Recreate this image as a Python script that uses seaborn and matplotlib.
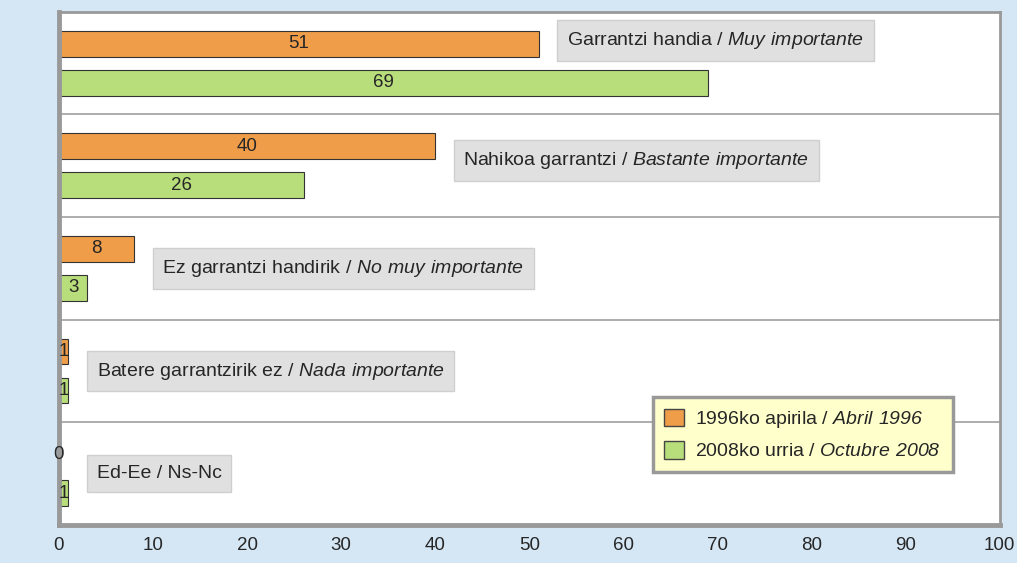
import matplotlib
matplotlib.use("Agg")
import matplotlib.pyplot as plt
import seaborn as sns
import pandas as pd
from matplotlib.patches import Patch

categories = [
    r"Garrantzi handia / $\mathsf{Muy\ importante}$",
    r"Nahikoa garrantzi / $\mathsf{Bastante\ importante}$",
    r"Ez garrantzi handirik / $\mathsf{No\ muy\ importante}$",
    r"Batere garrantzirik ez / $\mathsf{Nada\ importante}$",
    "Ed-Ee / Ns-Nc",
]
series = [r"1996ko apirila / $\mathsf{Abril\ 1996}$", r"2008ko urria / $\mathsf{Octubre\ 2008}$"]
val_1996 = [51, 40, 8, 1, 0]
val_2008 = [69, 26, 3, 1, 1]
xticks = [0, 10, 20, 30, 40, 50, 60, 70, 80, 90, 100]

colors = ["#f09d4a", "#b8dd7b"]

sns.set_style("white")
plt.rcParams["font.family"] = ["Liberation Sans", "DejaVu Sans"]
plt.rcParams["mathtext.fontset"] = "custom"
plt.rcParams["mathtext.rm"] = "Liberation Sans"
plt.rcParams["mathtext.sf"] = "Liberation Sans:italic"

df = pd.DataFrame({
    "cat": list(range(len(categories))) * 2,
    "serie": [series[0]] * len(categories) + [series[1]] * len(categories),
    "value": val_1996 + val_2008,
})

fig = plt.figure(figsize=(10.17, 5.63), dpi=100, facecolor="#d5e7f5")
ax = fig.add_axes([0.058, 0.0675, 0.925, 0.9115])
ax.set_facecolor("white")

sns.barplot(data=df, y="cat", x="value", hue="serie", orient="h",
            palette=colors, saturation=1, width=0.76, gap=0.34,
            edgecolor="#333333", linewidth=0.8, ax=ax, legend=False)

for cont in ax.containers:
    ax.bar_label(cont, label_type="center", fontsize=13.5)

for y in [0.5, 1.5, 2.5, 3.5]:
    ax.axhline(y, color="#a0a0a0", lw=1.2, zorder=0)

# category labels in grey boxes
y_shift = [-0.22, -0.05, 0, 0, 0]
for i, lab in enumerate(categories):
    ax.text(max(val_1996[i], 1) + 3.0, i + y_shift[i], lab, fontsize=14,
            ha="left", va="center",
            bbox=dict(boxstyle="square,pad=0.5", fc="#e0e0e0", ec="#cfcfcf", lw=1))

ax.set_xlim(0, 100)
ax.set_ylim(4.5, -0.5)
ax.set_xticks(xticks)
ax.set_yticks([])
ax.set_xlabel("")
ax.set_ylabel("")
ax.tick_params(axis="x", length=0, pad=9, labelsize=13.5)

for side in ["left", "bottom"]:
    ax.spines[side].set_linewidth(3.5)
    ax.spines[side].set_color("#999999")
for side in ["top", "right"]:
    ax.spines[side].set_linewidth(2)
    ax.spines[side].set_color("#999999")

handles = [Patch(facecolor=c, edgecolor="#444444") for c in colors]
leg = ax.legend(handles, series, loc="lower left", bbox_to_anchor=(0.631, 0.103),
                borderaxespad=0, fontsize=14, frameon=True, fancybox=False,
                facecolor="#ffffcc", edgecolor="#999999", framealpha=1,
                handlelength=1.0, handleheight=1.0, labelspacing=0.55,
                borderpad=0.6, handletextpad=0.6)
leg.get_frame().set_linewidth(2.5)

fig.savefig("out.png", dpi=100, facecolor=fig.get_facecolor())
